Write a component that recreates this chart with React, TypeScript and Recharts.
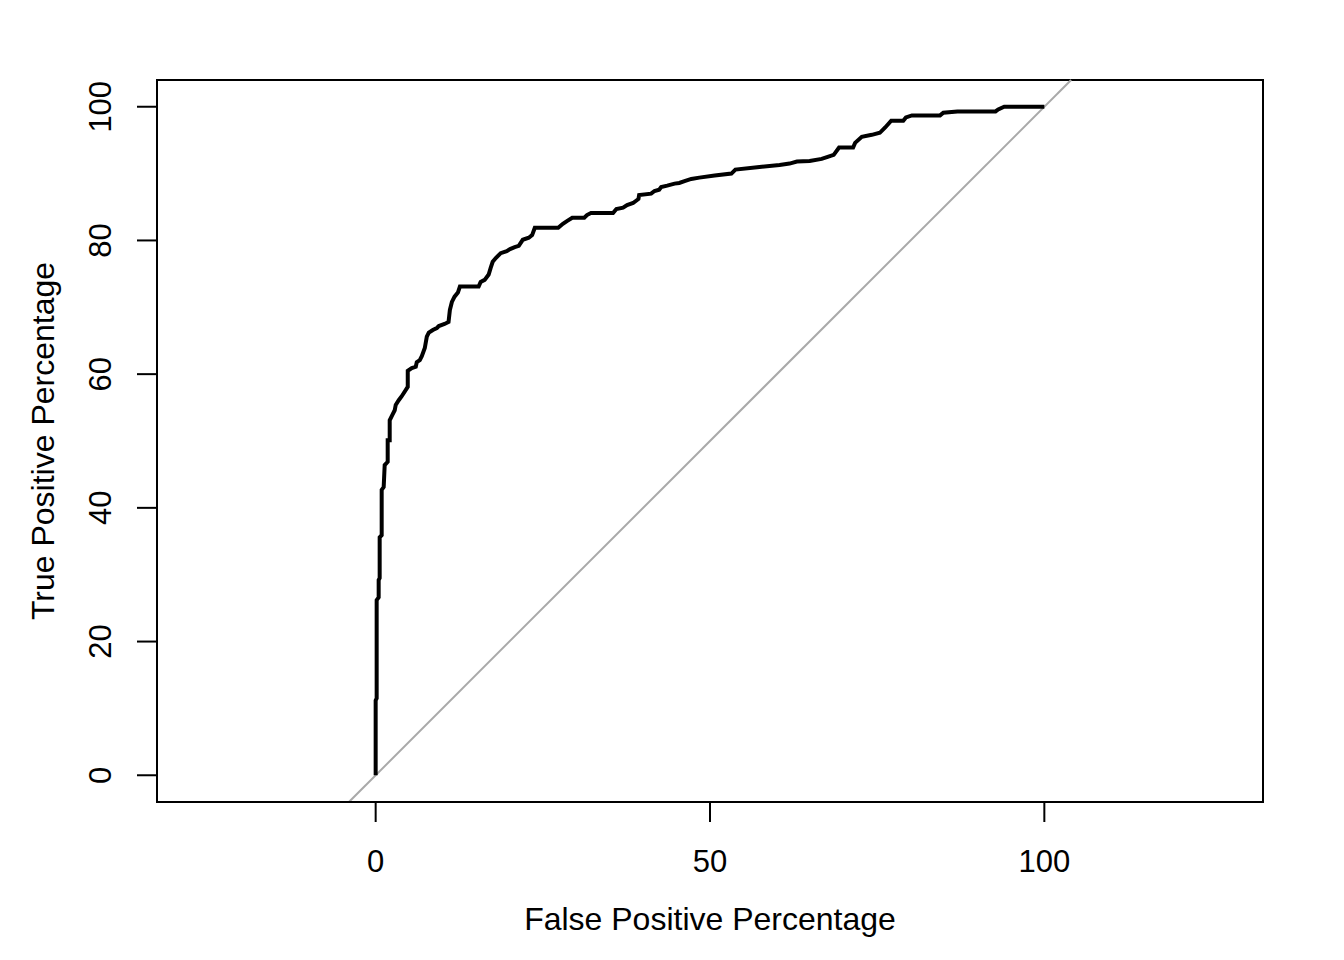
import React from 'react';
import { LineChart, Line, XAxis, YAxis, ReferenceLine, ReferenceArea } from 'recharts';

// ROC curve points (percent)
const fpr = [
  0, 0, 0.15, 0.15, 0.45, 0.45, 0.6, 0.6, 0.9, 0.9, 1.2, 1.35, 1.8, 1.8, 2.1, 2.1,
  2.5, 2.85, 3.0, 3.45, 3.9, 4.8, 4.8, 5.4, 6.0, 6.15, 6.6, 6.9, 7.35, 7.65, 7.95,
  8.55, 9.15, 9.45, 10.3, 10.9, 11.1, 11.4, 11.8, 12.3, 12.6, 15.4, 15.7, 16.3,
  16.9, 17.2, 17.5, 18.0, 18.7, 19.6, 20.1, 20.8, 21.4, 22.0, 22.9, 23.4, 23.8,
  27.3, 28.0, 28.6, 29.4, 31.2, 31.6, 32.2, 35.5, 36.0, 37.0, 37.6, 38.5, 39.3,
  39.4, 41.2, 41.7, 42.4, 42.7, 43.6, 44.7, 45.4, 46.3, 47.2, 48.4, 50.7, 53.2,
  53.8, 57.4, 60.4, 61.9, 63.0, 64.9, 66.7, 67.6, 68.5, 69.3, 71.4, 71.7, 72.7,
  74.2, 75.4, 76.2, 77.1, 78.9, 79.3, 80.2, 84.4, 84.9, 87.0, 92.7, 93.1, 94.0, 100,
];
const tpr = [
  0, 11.2, 11.5, 26.2, 26.6, 29.2, 29.5, 35.6, 35.9, 42.7, 43.1, 46.4, 46.9, 50.1,
  50.1, 53.1, 53.9, 54.6, 55.4, 56.1, 56.7, 58.1, 60.5, 60.9, 61.1, 61.8, 62.1,
  62.7, 63.9, 65.6, 66.2, 66.6, 66.9, 67.2, 67.5, 67.8, 69.6, 70.8, 71.6, 72.2,
  73.1, 73.1, 73.8, 74.1, 74.9, 75.9, 76.8, 77.4, 78.1, 78.4, 78.7, 79.0, 79.2,
  80.1, 80.4, 80.8, 81.9, 81.9, 82.5, 82.9, 83.4, 83.4, 83.8, 84.1, 84.1, 84.7,
  84.9, 85.3, 85.6, 86.2, 86.8, 87.0, 87.4, 87.6, 88.0, 88.2, 88.5, 88.6, 88.9,
  89.2, 89.4, 89.7, 90.0, 90.6, 91.0, 91.3, 91.5, 91.8, 91.9, 92.2, 92.5, 92.8,
  93.9, 93.9, 94.6, 95.5, 95.8, 96.1, 96.9, 97.9, 97.9, 98.4, 98.7, 98.7, 99.1,
  99.3, 99.3, 99.6, 100, 100,
];

const xTicks = [0, 50, 100];
const yTicks = [0, 20, 40, 60, 80, 100];
const xDomain = [-32.7, 132.7];
const yDomain = [-4, 104];

const rocData = fpr.map((x, i) => ({ fpr: x, tpr: tpr[i] }));

const FONT = '"Liberation Sans", Arial, Helvetica, sans-serif';

// rotated y tick labels, like R's default las=0
const YTick = ({ x, y, payload }: any) => (
  <text
    x={x}
    y={y}
    transform={`rotate(-90 ${x} ${y})`}
    textAnchor="middle"
    fontSize={31}
    fontFamily={FONT}
    fill="#000"
  >
    {payload.value}
  </text>
);

const YTitle = ({ viewBox }: any) => {
  const cx = 54;
  const cy = viewBox.y + viewBox.height / 2;
  return (
    <text
      x={cx}
      y={cy}
      transform={`rotate(-90 ${cx} ${cy})`}
      textAnchor="middle"
      fontSize={32}
      fontFamily={FONT}
      fill="#000"
    >
      True Positive Percentage
    </text>
  );
};

export default function App() {
  return (
    <div style={{ position: 'absolute', left: 0, top: 0, background: '#fff' }}>
      <LineChart
        width={1344}
        height={960}
        data={rocData}
        margin={{ top: 80, right: 81, bottom: 0, left: 0 }}
        style={{ fontFamily: FONT }}
      >
        <XAxis
          dataKey="fpr"
          type="number"
          domain={xDomain}
          ticks={xTicks}
          allowDataOverflow
          height={158}
          axisLine={{ stroke: '#000', strokeWidth: 2 }}
          tickLine={{ stroke: '#000', strokeWidth: 2 }}
          tickSize={20}
          tickMargin={28}
          tick={{ fontSize: 31, fill: '#000', fontFamily: FONT }}
          label={{
            value: 'False Positive Percentage',
            position: 'insideBottom',
            offset: 30,
            fontSize: 32,
            fill: '#000',
            fontFamily: FONT,
          }}
        />
        <YAxis
          dataKey="tpr"
          type="number"
          domain={yDomain}
          ticks={yTicks}
          allowDataOverflow
          width={157}
          axisLine={{ stroke: '#000', strokeWidth: 2 }}
          tickLine={{ stroke: '#000', strokeWidth: 2 }}
          tickSize={20}
          tickMargin={26}
          tick={<YTick />}
          label={<YTitle />}
        />
        {/* plot frame, R's box() */}
        <ReferenceArea
          x1={xDomain[0]}
          x2={xDomain[1]}
          y1={yDomain[0]}
          y2={yDomain[1]}
          fill="none"
          fillOpacity={0}
          stroke="#000"
          strokeWidth={2}
          ifOverflow="visible"
        />
        <ReferenceLine
          segment={[
            { x: yDomain[0], y: yDomain[0] },
            { x: yDomain[1], y: yDomain[1] },
          ]}
          stroke="#a9a9a9"
          strokeWidth={2}
          ifOverflow="visible"
        />
        <Line
          dataKey="tpr"
          type="linear"
          stroke="#000"
          strokeWidth={4}
          dot={false}
          activeDot={false}
          isAnimationActive={false}
        />
      </LineChart>
    </div>
  );
}
